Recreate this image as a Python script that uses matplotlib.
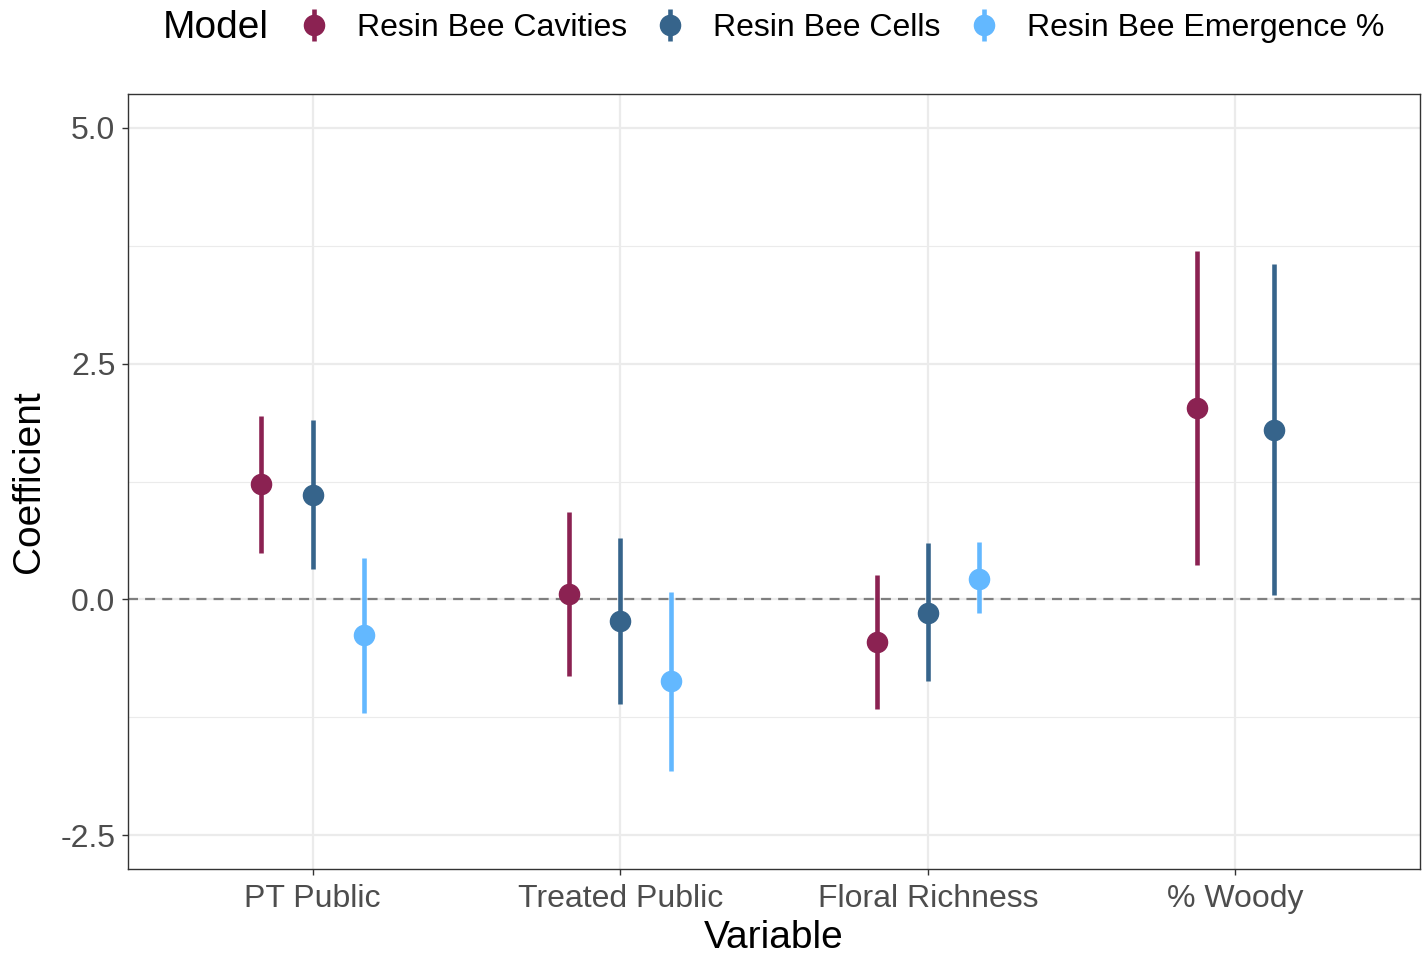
import numpy as np
import matplotlib
matplotlib.use("Agg")
import matplotlib.pyplot as plt

plt.rcParams["font.family"] = ["Liberation Sans", "DejaVu Sans"]

# Coefficient estimates with lower/upper interval bounds for each model
variables = ["PT Public", "Treated Public", "Floral Richness", "% Woody"]
models = ["Resin Bee Cavities", "Resin Bee Cells", "Resin Bee Emergence %"]
colors = ["#8B2252", "#36648B", "#63B8FF"]

cavities_est = [1.22, 0.06, -0.45, 2.03]
cavities_lo = [0.49, -0.81, -1.16, 0.36]
cavities_hi = [1.95, 0.93, 0.26, 3.70]

cells_est = [1.11, -0.23, -0.14, 1.80]
cells_lo = [0.32, -1.11, -0.87, 0.05]
cells_hi = [1.90, 0.65, 0.60, 3.56]

emergence_est = [-0.38, -0.87, 0.22, np.nan]
emergence_lo = [-1.21, -1.82, -0.15, np.nan]
emergence_hi = [0.44, 0.08, 0.61, np.nan]

estimates = [cavities_est, cells_est, emergence_est]
lowers = [cavities_lo, cells_lo, emergence_lo]
uppers = [cavities_hi, cells_hi, emergence_hi]

W, H, DPI = 1422, 956, 100
fig = plt.figure(figsize=(W / DPI, H / DPI), dpi=DPI)
ax = fig.add_axes([128 / W, 1 - 869 / H, (1420 - 128) / W, (869 - 94) / H])

grid_col = "#EBEBEB"
dodge_width = 0.5
x_base = np.arange(1, len(variables) + 1, dtype=float)

# dodge positions depend on how many models report each variable
est_arr = np.array(estimates, dtype=float)
present = ~np.isnan(est_arr)
n_present = present.sum(axis=0)
rank = np.cumsum(present, axis=0) - 1

handles = []
for m, name in enumerate(models):
    est = np.array(estimates[m], dtype=float)
    lo = np.array(lowers[m], dtype=float)
    hi = np.array(uppers[m], dtype=float)
    offs = (rank[m] - (n_present - 1) / 2) * dodge_width / n_present
    xs = x_base + offs
    ok = ~np.isnan(est)
    h = ax.errorbar(xs[ok], est[ok], yerr=[est[ok] - lo[ok], hi[ok] - est[ok]],
                    fmt="o", color=colors[m], ecolor=colors[m], elinewidth=3.3,
                    markersize=14.5, capsize=0, label=name, zorder=3)
    handles.append(h)

ax.axhline(0, color="#7F7F7F", lw=1.6, ls=(0, (4.5, 3.2)), zorder=2)

ax.set_xlim(0.4, 4.6)
ax.set_ylim(-2.86, 5.36)
ax.set_xticks(x_base)
ax.set_xticklabels(variables)
ax.set_yticks([-2.5, 0.0, 2.5, 5.0])
ax.set_yticklabels(["-2.5", "0.0", "2.5", "5.0"])
ax.set_yticks([-1.25, 1.25, 3.75], minor=True)

ax.grid(True, which="major", color=grid_col, lw=1.6, zorder=0)
ax.grid(True, which="minor", axis="y", color=grid_col, lw=0.8, zorder=0)
ax.set_axisbelow(True)

for sp in ax.spines.values():
    sp.set_color("#333333")
    sp.set_linewidth(1.0)

ax.tick_params(axis="both", which="major", length=4, width=1.0, color="#333333",
               labelsize=23, labelcolor="#4D4D4D")
ax.tick_params(axis="x", which="major", pad=7)
ax.tick_params(axis="y", which="major", pad=5)
ax.tick_params(axis="y", which="minor", length=0)

ax.set_xlabel("Variable", fontsize=28, color="black", labelpad=4)
ax.set_ylabel("Coefficient", fontsize=28, color="black", labelpad=10)

# legend across the top with its title on the left
fig.text(163 / W, 1 - 28 / H, "Model", fontsize=28, ha="left", va="center")
fig.legend(handles=handles, labels=models, loc="center left",
           bbox_to_anchor=(298 / W, 1 - 28 / H), ncol=3, frameon=False,
           fontsize=23, handlelength=1.0, handletextpad=0.85,
           columnspacing=0.85, borderpad=0, borderaxespad=0)

fig.savefig("out.png", dpi=DPI)
